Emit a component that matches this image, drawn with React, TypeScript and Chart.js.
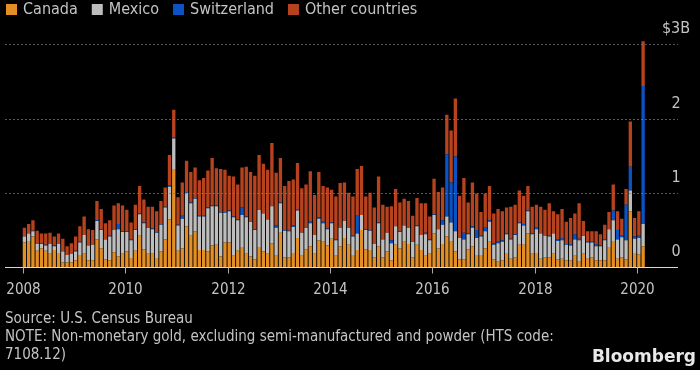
import React, { useEffect, useRef } from "react";
import { Chart, registerables } from "chart.js";

Chart.register(...registerables);

// ---- data (billions of US$, monthly Jan 2008 .. Feb 2020) ----
const yearLabels = ["2008", "2010", "2012", "2014", "2016", "2018", "2020"];
const startYear = 2008;

const canada = [
  0.33, 0.35, 0.41, 0.22, 0.25, 0.22, 0.18, 0.23, 0.19, 0.06, 0.06, 0.06,
  0.09, 0.16, 0.18, 0.09, 0.09, 0.37, 0.25, 0.10, 0.09, 0.20, 0.14, 0.18,
  0.21, 0.12, 0.22, 0.42, 0.24, 0.18, 0.18, 0.12, 0.21, 0.37, 0.64, 1.32,
  0.22, 0.25, 0.55, 0.42, 0.48, 0.23, 0.23, 0.21, 0.29, 0.30, 0.14, 0.33,
  0.33, 0.15, 0.22, 0.27, 0.18, 0.14, 0.10, 0.27, 0.21, 0.18, 0.32, 0.15,
  0.46, 0.13, 0.13, 0.19, 0.39, 0.15, 0.24, 0.28, 0.18, 0.36, 0.34, 0.29,
  0.38, 0.15, 0.28, 0.39, 0.30, 0.16, 0.23, 0.50, 0.24, 0.23, 0.13, 0.28,
  0.13, 0.21, 0.09, 0.30, 0.25, 0.34, 0.31, 0.13, 0.30, 0.23, 0.15, 0.18,
  0.45, 0.25, 0.31, 0.41, 0.34, 0.21, 0.10, 0.10, 0.24, 0.28, 0.16, 0.16,
  0.25, 0.34, 0.10, 0.07, 0.09, 0.19, 0.11, 0.13, 0.30, 0.30, 0.45, 0.18,
  0.19, 0.11, 0.13, 0.13, 0.18, 0.10, 0.11, 0.09, 0.09, 0.15, 0.07, 0.18,
  0.11, 0.13, 0.09, 0.09, 0.09, 0.27, 0.35, 0.11, 0.13, 0.10, 0.75, 0.19,
  0.17, 0.28,
];

const mexico = [
  0.08, 0.10, 0.07, 0.09, 0.06, 0.07, 0.13, 0.05, 0.12, 0.15, 0.10, 0.12,
  0.12, 0.17, 0.25, 0.20, 0.21, 0.25, 0.25, 0.27, 0.32, 0.30, 0.37, 0.29,
  0.26, 0.24, 0.28, 0.29, 0.35, 0.35, 0.33, 0.34, 0.36, 0.43, 0.44, 0.41,
  0.34, 0.40, 0.45, 0.44, 0.44, 0.45, 0.45, 0.58, 0.53, 0.52, 0.59, 0.40,
  0.42, 0.52, 0.41, 0.43, 0.49, 0.47, 0.40, 0.50, 0.51, 0.46, 0.50, 0.38,
  0.40, 0.36, 0.35, 0.35, 0.37, 0.31, 0.29, 0.31, 0.25, 0.29, 0.25, 0.22,
  0.21, 0.21, 0.25, 0.23, 0.23, 0.25, 0.22, 0.20, 0.26, 0.26, 0.18, 0.31,
  0.24, 0.25, 0.23, 0.25, 0.22, 0.22, 0.22, 0.21, 0.25, 0.20, 0.29, 0.18,
  0.25, 0.26, 0.26, 0.27, 0.26, 0.27, 0.29, 0.27, 0.20, 0.25, 0.23, 0.25,
  0.23, 0.27, 0.20, 0.25, 0.25, 0.25, 0.26, 0.30, 0.29, 0.26, 0.30, 0.26,
  0.32, 0.34, 0.29, 0.28, 0.27, 0.25, 0.25, 0.21, 0.20, 0.22, 0.29, 0.24,
  0.22, 0.20, 0.19, 0.19, 0.27, 0.24, 0.28, 0.26, 0.27, 0.26, 0.28, 0.19,
  0.22, 0.30,
];

const switzerland = [
  0.00, 0.00, 0.01, 0.00, 0.01, 0.01, 0.00, 0.01, 0.00, 0.00, 0.00, 0.00,
  0.01, 0.01, 0.00, 0.00, 0.00, 0.01, 0.01, 0.00, 0.01, 0.00, 0.07, 0.01,
  0.01, 0.01, 0.01, 0.01, 0.01, 0.01, 0.01, 0.01, 0.01, 0.01, 0.02, 0.02,
  0.01, 0.04, 0.01, 0.01, 0.01, 0.02, 0.02, 0.01, 0.01, 0.01, 0.01, 0.01,
  0.01, 0.01, 0.01, 0.10, 0.01, 0.01, 0.01, 0.01, 0.00, 0.00, 0.00, 0.03,
  0.01, 0.01, 0.01, 0.02, 0.01, 0.00, 0.01, 0.02, 0.00, 0.02, 0.02, 0.01,
  0.01, 0.01, 0.00, 0.00, 0.00, 0.01, 0.25, 0.00, 0.01, 0.01, 0.00, 0.01,
  0.00, 0.00, 0.04, 0.00, 0.01, 0.00, 0.00, 0.01, 0.01, 0.00, 0.02, 0.01,
  0.01, 0.00, 0.06, 0.84, 0.54, 1.01, 0.00, 0.09, 0.01, 0.02, 0.11, 0.01,
  0.05, 0.02, 0.02, 0.02, 0.02, 0.01, 0.01, 0.01, 0.01, 0.02, 0.01, 0.01,
  0.02, 0.00, 0.00, 0.02, 0.00, 0.02, 0.03, 0.01, 0.02, 0.07, 0.02, 0.01,
  0.02, 0.01, 0.03, 0.01, 0.01, 0.00, 0.13, 0.13, 0.02, 0.48, 0.32, 0.03,
  0.03, 1.86,
];

const otherCountries = [
  0.12, 0.13, 0.14, 0.18, 0.13, 0.15, 0.15, 0.12, 0.14, 0.17, 0.12, 0.14,
  0.19, 0.21, 0.25, 0.22, 0.20, 0.26, 0.27, 0.22, 0.21, 0.33, 0.28, 0.35,
  0.29, 0.23, 0.33, 0.37, 0.31, 0.27, 0.29, 0.28, 0.31, 0.26, 0.41, 0.37,
  0.37, 0.45, 0.42, 0.41, 0.41, 0.47, 0.50, 0.50, 0.64, 0.50, 0.58, 0.57,
  0.47, 0.54, 0.47, 0.54, 0.67, 0.66, 0.72, 0.73, 0.67, 0.67, 0.85, 0.71,
  0.60, 0.59, 0.67, 0.62, 0.63, 0.60, 0.57, 0.68, 0.54, 0.61, 0.48, 0.55,
  0.44, 0.58, 0.60, 0.52, 0.47, 0.53, 0.62, 0.66, 0.44, 0.50, 0.49, 0.62,
  0.47, 0.35, 0.46, 0.50, 0.39, 0.36, 0.36, 0.34, 0.37, 0.43, 0.40, 0.31,
  0.48, 0.50, 0.44, 0.53, 0.70, 0.78, 0.57, 0.74, 0.42, 0.59, 0.49, 0.32,
  0.46, 0.46, 0.40, 0.44, 0.39, 0.35, 0.43, 0.40, 0.43, 0.38, 0.33, 0.36,
  0.31, 0.36, 0.35, 0.43, 0.30, 0.34, 0.39, 0.30, 0.35, 0.28, 0.48, 0.19,
  0.13, 0.14, 0.17, 0.15, 0.20, 0.23, 0.35, 0.25, 0.23, 0.21, 0.61, 0.25,
  0.33, 0.60,
];

const seriesNames = ["Canada", "Mexico", "Switzerland", "Other countries"];
const yTickValues = [0, 1, 2, 3];
const yTickLabels = ["0", "1", "2", "$3B"];
const footerLines = [
  "Source: U.S. Census Bureau",
  "NOTE: Non-monetary gold, excluding semi-manufactured and powder (HTS code:",
  "7108.12)",
];
const brand = "Bloomberg";

// ---- styles ----
const seriesColors = ["#e38f26", "#bdbdbd", "#0b52c4", "#b6421e"];
const FONT = '"DejaVu Sans Condensed", "DejaVu Sans", sans-serif';
const TEXT = "#c4c4c4";

function monthX(i: number) {
  return i + 0.4;
}

const overlayPlugin = {
  id: "overlay",
  beforeDraw(chart: any) {
    const ctx = chart.ctx;
    ctx.save();
    ctx.fillStyle = "#000";
    ctx.fillRect(0, 0, chart.width, chart.height);
    ctx.restore();
  },
  afterDatasetsDraw(chart: any) {
    const ctx: CanvasRenderingContext2D = chart.ctx;
    const xs = chart.scales.x;
    const ys = chart.scales.y;
    const { left, right } = chart.chartArea;
    ctx.save();

    // dashed gridlines
    ctx.lineWidth = 1;
    ctx.setLineDash([2, 2]);
    ctx.strokeStyle = "rgba(125,125,125,0.7)";
    yTickValues.forEach((v) => {
      if (v === 0) return;
      const py = Math.round(ys.getPixelForValue(v)) + 0.5;
      ctx.beginPath();
      ctx.moveTo(left, py);
      ctx.lineTo(right, py);
      ctx.stroke();
    });
    ctx.setLineDash([]);

    // baseline
    const by = Math.round(ys.getPixelForValue(0)) + 0.5;
    ctx.strokeStyle = "#d8d8d8";
    ctx.beginPath();
    ctx.moveTo(left, by);
    ctx.lineTo(right, by);
    ctx.stroke();

    // year ticks & labels
    ctx.font = `15px ${FONT}`;
    ctx.fillStyle = TEXT;
    ctx.textAlign = "center";
    ctx.textBaseline = "middle";
    yearLabels.forEach((lab) => {
      const m = (parseInt(lab, 10) - startYear) * 12;
      const px = Math.round(xs.getPixelForValue(m)) + 0.5;
      ctx.strokeStyle = "#a8a8a8";
      ctx.beginPath();
      ctx.moveTo(px, by);
      ctx.lineTo(px, by + 6);
      ctx.stroke();
      ctx.fillText(lab, px, 290);
    });

    // y labels (right side, above gridlines)
    ctx.font = `16px ${FONT}`;
    yTickValues.forEach((v, k) => {
      const py = ys.getPixelForValue(v);
      ctx.fillText(yTickLabels[k], 676, py - 15);
    });

    // legend
    ctx.textAlign = "left";
    ctx.font = `16px ${FONT}`;
    let lx = 6;
    seriesNames.forEach((name, k) => {
      ctx.fillStyle = seriesColors[k];
      ctx.fillRect(lx, 4, 11, 11);
      ctx.fillStyle = TEXT;
      ctx.fillText(name, lx + 17, 10);
      lx += 17 + ctx.measureText(name).width + 14;
    });

    // footer
    ctx.font = `15px ${FONT}`;
    ctx.fillStyle = TEXT;
    footerLines.forEach((line, k) => {
      ctx.fillText(line, 5, 319 + k * 18);
    });

    ctx.font = 'bold 17px "DejaVu Sans", sans-serif';
    ctx.fillStyle = "#e8e8e8";
    ctx.textAlign = "right";
    ctx.fillText(brand, 696, 358);

    ctx.restore();
  },
};

export default function App() {
  const ref = useRef<HTMLCanvasElement | null>(null);

  useEffect(() => {
    document.body.style.margin = "0";
    document.body.style.background = "#000";
    const canvas = ref.current;
    if (!canvas) return;

    const allSeries = [canada, mexico, switzerland, otherCountries];
    const datasets = allSeries.map((vals, k) => ({
      label: seriesNames[k],
      data: vals.map((v, i) => ({ x: monthX(i), y: v })),
      backgroundColor: seriesColors[k],
      borderWidth: 0,
      barPercentage: 0.78,
      categoryPercentage: 1,
    }));

    // plot area: x from 5 to 678 px, baseline at 267, 1B = 74.23 px
    const pxPerMonth = 4.267;
    const xMin = -(22.7 - 5) / pxPerMonth;
    const xMax = (678 - 22.7) / pxPerMonth;
    const pxPerB = 74.23;
    const yMax = 3.2;
    const top = 267 - yMax * pxPerB;

    const chart = new Chart(canvas, {
      type: "bar",
      data: { datasets },
      options: {
        responsive: false,
        animation: false,
        maintainAspectRatio: false,
        layout: { padding: { left: 5, right: 700 - 678, top, bottom: 370 - 267 } },
        plugins: { legend: { display: false }, tooltip: { enabled: false } },
        scales: {
          x: {
            type: "linear",
            min: xMin,
            max: xMax,
            stacked: true,
            offset: false,
            display: false,
            grid: { offset: false },
          },
          y: { type: "linear", min: 0, max: yMax, stacked: true, display: false },
        },
      } as any,
      plugins: [overlayPlugin],
    } as any);

    return () => chart.destroy();
  }, []);

  return (
    <div style={{ position: "fixed", left: 0, top: 0, width: 700, height: 370, background: "#000" }}>
      <canvas ref={ref} width={700} height={370} style={{ display: "block" }} />
    </div>
  );
}
